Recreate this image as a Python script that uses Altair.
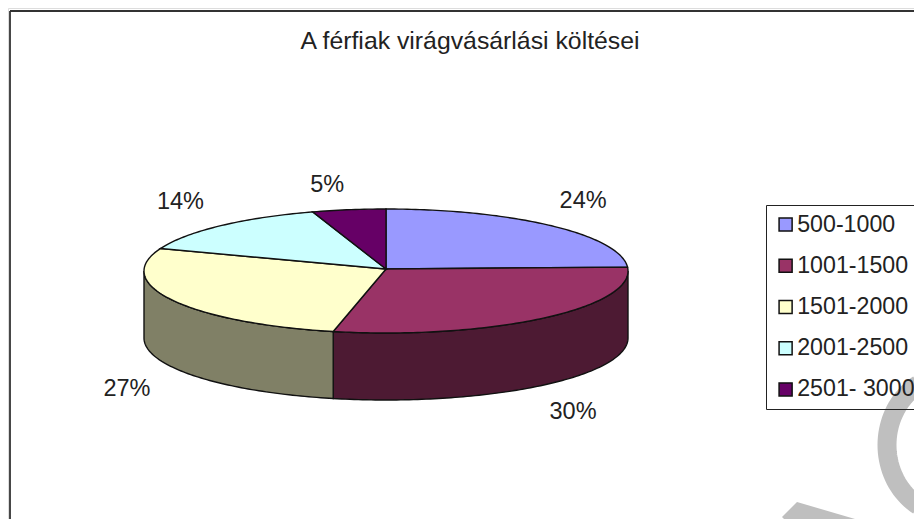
import math
import altair as alt
import pandas as pd

TITLE = "A férfiak virágvásárlási költései"
categories = ["500-1000", "1001-1500", "1501-2000", "2001-2500", "2501- 3000"]
shares = [24.0, 29.5, 27.4, 14.2, 4.9]
percent_labels = ["24%", "30%", "27%", "14%", "5%"]
top_colors = ["#9999ff", "#993366", "#ffffcc", "#ccffff", "#660066"]
side_colors = ["#4d4d80", "#4d1a33", "#808066", "#668080", "#330033"]

# tilt of the pie, as fractions of its horizontal radius
RIM_Y = 62 / 242
DEPTH = 67 / 242
HUB_Y = 2 / 242
# how far each percentage label stands from the rim point of its slice
label_shift_x = [0.13, 0.1235, -0.188, -0.165, -0.09]
label_shift_y = [0.102, -0.112 - DEPTH, -0.091 - DEPTH, 0.097, 0.102]

SCALE = 242
CX, CY = 378, 263  # pie centre on the canvas


def rim(deg, drop=0.0):
    a = math.radians(deg)
    return [math.sin(a), math.cos(a) * RIM_Y - drop]


def arc(a, b, drop=0.0):
    n = max(2, int(abs(b - a)) + 1)
    return [rim(a + (b - a) * i / (n - 1), drop) for i in range(n)]


def feature(name, ring):
    return {
        "type": "Feature",
        "properties": {"name": name},
        "geometry": {"type": "Polygon", "coordinates": [ring + [ring[0]]]},
    }


def page(px, py):
    # page pixel of the reference -> pie units
    return [(px - 8 - CX) / SCALE, (CY - (py - 8)) / SCALE]


tops, sides, labels = [], [], []
start = 0.0
for i, (cat, share) in enumerate(zip(categories, shares)):
    end = start + share * 3.6
    tops.append(feature(cat, [[0, HUB_Y]] + arc(start, end)))
    lo, hi = max(start, 90), min(end, 270)
    if hi > lo:
        sides.append(feature(cat + " oldal", arc(lo, hi) + arc(hi, lo, DEPTH)))
    p = rim((start + end) / 2)
    labels.append({"text": percent_labels[i], "lon": p[0] + label_shift_x[i], "lat": p[1] + label_shift_y[i]})
    start = end

proj = dict(type="identity", reflectY=True, scale=SCALE, translate=[CX, CY])

side_layer = (
    alt.Chart(alt.Data(values=sides))
    .mark_geoshape(stroke="#111111", strokeWidth=1.4)
    .encode(
        fill=alt.Fill(
            "properties.name:N",
            scale=alt.Scale(domain=[c + " oldal" for c in categories], range=side_colors),
            legend=None,
        )
    )
    .project(**proj)
)

top_layer = (
    alt.Chart(alt.Data(values=tops))
    .mark_geoshape(stroke="#111111", strokeWidth=1.4)
    .encode(
        fill=alt.Fill(
            "properties.name:N",
            scale=alt.Scale(domain=categories, range=top_colors),
            legend=alt.Legend(
                title=None,
                orient="none",
                legendX=758,
                legendY=197,
                symbolType="square",
                symbolSize=170,
                symbolStrokeColor="#111111",
                symbolStrokeWidth=1.5,
                labelFont="Liberation Sans",
                labelFontSize=23.2,
                labelColor="#222222",
                labelOffset=0,
                labelLimit=200,
                rowPadding=17.2,
                padding=8,
                strokeColor="#222222",
            ),
        )
    )
    .project(**proj)
)

label_layer = (
    alt.Chart(pd.DataFrame(labels))
    .mark_text(font="Liberation Sans", fontSize=23.5, color="#222222", baseline="middle", align="center")
    .encode(longitude="lon:Q", latitude="lat:Q", text="text:N")
    .project(**proj)
)

frame_left = alt.Chart(pd.DataFrame({"k": [0]})).mark_rule(color="#333333", strokeWidth=1.8).encode(
    x=alt.value(2), y=alt.value(3), y2=alt.value(511)
)
frame_top = alt.Chart(pd.DataFrame({"k": [0]})).mark_rule(color="#333333", strokeWidth=1.8).encode(
    x=alt.value(2), x2=alt.value(906), y=alt.value(3)
)

# the grey pen strokes lying over the lower right corner of the scan
stroke_c = [
    page(950 + 63 * math.sin(math.radians(d)), 445 - 70 * math.cos(math.radians(d)))
    for d in range(330, 207, -3)
]
pen_c = (
    alt.Chart(alt.Data(values=[{
        "type": "Feature",
        "properties": {},
        "geometry": {"type": "LineString", "coordinates": stroke_c},
    }]))
    .mark_geoshape(filled=False, stroke="#bfbfbf", strokeWidth=19)
    .project(**proj)
)
pen_a = (
    alt.Chart(alt.Data(values=[feature("pen", [page(797, 502), page(855, 519), page(784, 519), page(782, 517)])]))
    .mark_geoshape(fill="#bfbfbf", stroke=None)
    .project(**proj)
)

chart = (
    alt.layer(frame_left, frame_top, side_layer, top_layer, label_layer, pen_c, pen_a)
    .resolve_scale(fill="independent")
    .properties(
        width=906,
        height=511,
        padding=0,
        autosize=alt.AutoSizeParams(type="none"),
        title=alt.TitleParams(
            text=TITLE,
            font="Liberation Sans",
            fontSize=24.8,
            fontWeight="normal",
            color="#222222",
            anchor="middle",
            dx=9,
            dy=50,
        ),
    )
    .configure_view(stroke=None)
    .configure_legend(strokeWidth=1.6)
    .configure(background="white")
)

chart.save("out.html", embed_options={"renderer": "svg", "actions": False})
